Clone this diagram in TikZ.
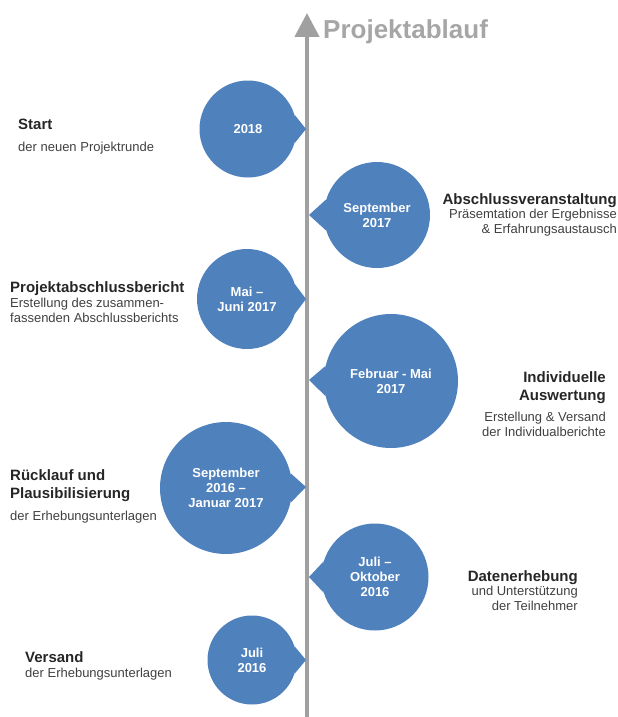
\documentclass[tikz,border=0pt]{standalone}
\usepackage{fontspec}
\setmainfont{Liberation Sans}
\usepackage{tikz}
\usetikzlibrary{arrows.meta}
\definecolor{bubbleblue}{RGB}{79,129,189}
\definecolor{axisgray}{RGB}{160,160,160}
\definecolor{titlegray}{RGB}{166,166,166}

\begin{document}
\begin{tikzpicture}[x=1pt,y=-1pt,
  bubble/.style={circle,fill=bubbleblue,text=white,inner sep=0pt,align=center,
    font=\bfseries\fontsize{13}{15}\selectfont},
  tail/.style={fill=bubbleblue},
  axis/.style={draw=axisgray,line width=4.5pt,-{Triangle[length=24pt,width=24pt]}},
  ttl/.style={inner sep=0pt,text=black!85,font=\bfseries\fontsize{15}{18}\selectfont},
  sub/.style={inner sep=0pt,text=black!75,font=\fontsize{13}{15}\selectfont},
  lft/.style={anchor=north west,align=left},
  rgt/.style={anchor=north east,align=right}]
\useasboundingbox (0,0) rectangle (618,717);

\coordinate (bot) at (307,717);
\coordinate (top) at (307,13);
\draw[axis] (bot) -- (top);
\node[anchor=base west,inner sep=0pt,text=titlegray,
  font=\bfseries\fontsize{26}{30}\selectfont] (title) at (323,38) {Projektablauf};

\node[bubble,minimum size=97pt]  (c1) at (248,129) {2018};
\node[bubble,minimum size=106pt] (c2) at (377,215) {September\\2017};
\node[bubble,minimum size=100pt] (c3) at (247,299) {Mai --\\Juni 2017};
\node[bubble,minimum size=134pt] (c4) at (391,381) {Februar - Mai\\2017};
\node[bubble,minimum size=132pt] (c5) at (226,488) {September\\2016 --\\Januar 2017};
\node[bubble,minimum size=107pt] (c6) at (375,577) {Juli --\\Oktober\\2016};
\node[bubble,minimum size=89pt]  (c7) at (252,660) {Juli\\2016};

\coordinate (t1) at (306,129);
\coordinate (t2) at (309,215);
\coordinate (t3) at (306,299);
\coordinate (t4) at (309,380);
\coordinate (t5) at (306,487);
\coordinate (t6) at (309,577);
\coordinate (t7) at (306,660);
\fill[tail] (c1.17) -- (t1) -- (c1.-17) -- cycle;
\fill[tail] (c2.163) -- (t2) -- (c2.197) -- cycle;
\fill[tail] (c3.17) -- (t3) -- (c3.-17) -- cycle;
\fill[tail] (c4.167) -- (t4) -- (c4.193) -- cycle;
\fill[tail] (c5.13) -- (t5) -- (c5.-13) -- cycle;
\fill[tail] (c6.163) -- (t6) -- (c6.197) -- cycle;
\fill[tail] (c7.18) -- (t7) -- (c7.-18) -- cycle;

\node[ttl,lft] (start) at (18,119) {Start};
\node[sub,lft] (startsub) at (18,141.5) {der neuen Projektrunde};

\node[ttl,rgt] (abschluss) at (617,193) {Abschlussveranstaltung};
\node[sub,rgt] (abschlusssub) at (617,208.5) {Präsemtation der Ergebnisse\\\& Erfahrungsaustausch};

\node[ttl,lft] (bericht) at (10,281) {Projektabschlussbericht};
\node[sub,lft] (berichtsub) at (10,297.5) {Erstellung des zusammen-\\fassenden Abschlussberichts};

\node[ttl,rgt] (auswertung) at (606,371) {Individuelle\\Auswertung};
\node[sub,rgt] (auswertungsub) at (606,411.5) {Erstellung \& Versand\\der Individualberichte};

\node[ttl,lft] (ruecklauf) at (10,469) {Rücklauf und\\Plausibilisierung};
\node[sub,lft] (ruecklaufsub) at (10,510.5) {der Erhebungsunterlagen};

\node[ttl,rgt] (erhebung) at (578,570) {Datenerhebung};
\node[sub,rgt] (erhebungsub) at (578,585.5) {und Unterstützung\\der Teilnehmer};

\node[ttl,lft] (versand) at (25,651) {Versand};
\node[sub,lft] (versandsub) at (25,667.5) {der Erhebungsunterlagen};
\end{tikzpicture}
\end{document}
